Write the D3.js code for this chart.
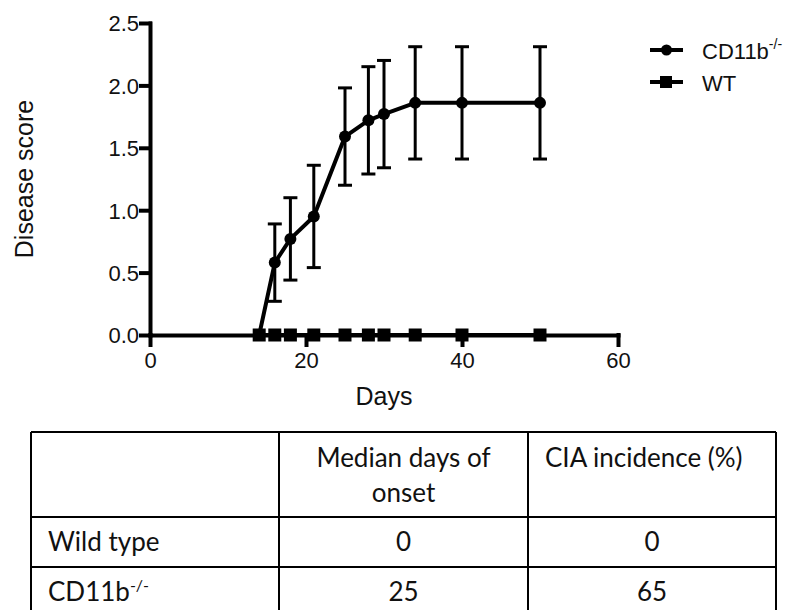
<!DOCTYPE html>
<html>
<head>
<meta charset="utf-8">
<script src="https://cdn.jsdelivr.net/npm/d3@7/dist/d3.min.js"></script>
<style>
  html, body { margin: 0; padding: 0; background: #fff; }
  svg { display: block; }
  .axis text { font-family: "Liberation Sans", "Arimo", "DejaVu Sans", sans-serif; font-size: 22px; fill: #111; }
  .axis path, .axis line { stroke: #000; stroke-width: 4; stroke-linecap: square; }
  .title { font-family: "Liberation Sans", "Arimo", "DejaVu Sans", sans-serif; font-size: 25px; fill: #111; }
  .legend text { font-family: "Liberation Sans", "Arimo", "DejaVu Sans", sans-serif; font-size: 22px; fill: #111; }
  .tbl text { font-family: Lato, "Open Sans", sans-serif; font-size: 26px; fill: #111; }
</style>
</head>
<body>
<svg id="chart" width="801" height="610"></svg>
<script>
// Disease score over time (mean ± SEM)
const days = [14, 16, 18, 21, 25, 28, 30, 34, 40, 50];
const cd11bScore = [0, 0.58, 0.77, 0.95, 1.59, 1.72, 1.77, 1.86, 1.86, 1.86];
const cd11bSem = [0, 0.31, 0.33, 0.41, 0.39, 0.43, 0.43, 0.45, 0.45, 0.45];
const wtScore = [0, 0, 0, 0, 0, 0, 0, 0, 0, 0];
const seriesNames = ["CD11b", "WT"];
const xTicks = [0, 20, 40, 60];
const yTicks = [0, 0.5, 1.0, 1.5, 2.0, 2.5];

// Summary table
const tableHeader = ["", "Median days of onset", "CIA incidence (%)"];
const groups = ["Wild type", "CD11b"];
const medianOnset = [0, 25];
const incidence = [0, 65];

const svg = d3.select("#chart");

const x = d3.scaleLinear().domain([0, 60]).range([150, 618]);
const y = d3.scaleLinear().domain([0, 2.5]).range([335, 23]);

// axes
const xAxisG = svg.append("g").attr("class", "axis")
  .attr("transform", `translate(0,${y(0)})`)
  .call(d3.axisBottom(x).tickValues(xTicks).tickFormat(d3.format("d"))
    .tickSize(10).tickSizeOuter(0).tickPadding(7));

const yAxisG = svg.append("g").attr("class", "axis")
  .attr("transform", `translate(${x(0)},0)`)
  .call(d3.axisLeft(y).tickValues(yTicks).tickFormat(d3.format(".1f"))
    .tickSize(9).tickSizeOuter(0).tickPadding(2));

[xAxisG, yAxisG].forEach(g => g.attr("font-family", null).attr("font-size", null));
yAxisG.selectAll("text").attr("dy", "0.36em");
xAxisG.selectAll("text").attr("dy", "0.72em");

// axis titles
svg.append("text").attr("class", "title")
  .attr("x", (x(0) + x(60)) / 2).attr("y", 405)
  .attr("text-anchor", "middle").text("Days");
svg.append("text").attr("class", "title")
  .attr("transform", `translate(33,${(y(0) + y(2.5)) / 2}) rotate(-90)`)
  .attr("text-anchor", "middle").text("Disease score");

// error bars
const plot = svg.append("g");
const capW = 7;
days.forEach((d, i) => {
  const s = cd11bSem[i];
  if (s <= 0) return;
  const g = plot.append("g").attr("stroke", "#000").attr("stroke-width", 3);
  const hi = y(cd11bScore[i] + s), lo = y(cd11bScore[i] - s);
  g.append("line").attr("x1", x(d)).attr("x2", x(d)).attr("y1", hi).attr("y2", lo);
  g.append("line").attr("x1", x(d) - capW).attr("x2", x(d) + capW).attr("y1", hi).attr("y2", hi);
  g.append("line").attr("x1", x(d) - capW).attr("x2", x(d) + capW).attr("y1", lo).attr("y2", lo);
});

const line = d3.line().x(d => x(d[0])).y(d => y(d[1]));
const wtPts = days.map((d, i) => [d, wtScore[i]]);
const cdPts = days.map((d, i) => [d, cd11bScore[i]]);

plot.append("path").datum(wtPts).attr("d", line)
  .attr("fill", "none").attr("stroke", "#000").attr("stroke-width", 4);
plot.append("path").datum(cdPts).attr("d", line)
  .attr("fill", "none").attr("stroke", "#000").attr("stroke-width", 4)
  .attr("stroke-linejoin", "round");

plot.selectAll("rect.wt").data(wtPts).join("rect").attr("class", "wt")
  .attr("x", d => x(d[0]) - 6.5).attr("y", d => y(d[1]) - 6.5)
  .attr("width", 13).attr("height", 13).attr("fill", "#000");
plot.selectAll("circle.cd").data(cdPts).join("circle").attr("class", "cd")
  .attr("cx", d => x(d[0])).attr("cy", d => y(d[1])).attr("r", 6).attr("fill", "#000");

// legend
const legend = svg.append("g").attr("class", "legend");
const legRows = [{ name: seriesNames[0], sup: "-/-", sym: "circle", ly: 50 },
                 { name: seriesNames[1], sup: "", sym: "square", ly: 82 }];
legRows.forEach(r => {
  legend.append("line").attr("x1", 650).attr("x2", 683).attr("y1", r.ly).attr("y2", r.ly)
    .attr("stroke", "#000").attr("stroke-width", 4);
  if (r.sym === "circle") {
    legend.append("circle").attr("cx", 666.5).attr("cy", r.ly).attr("r", 5.5).attr("fill", "#000");
  } else {
    legend.append("rect").attr("x", 660).attr("y", r.ly - 6).attr("width", 12).attr("height", 12).attr("fill", "#000");
  }
  const t = legend.append("text").attr("x", 702).attr("y", r.ly + 9).text(r.name);
  if (r.sup) t.append("tspan").attr("dy", -10).attr("font-size", 14).text(r.sup);
});

// table
const tbl = svg.append("g").attr("class", "tbl");
const colX = [31, 279, 528, 776];
const rowY = [432, 517, 567, 617, 660];
const bw = 2;
colX.forEach(cx => tbl.append("line").attr("x1", cx).attr("x2", cx)
  .attr("y1", rowY[0]).attr("y2", 640).attr("stroke", "#000").attr("stroke-width", bw));
rowY.slice(0, 4).forEach(ry => tbl.append("line").attr("x1", colX[0]).attr("x2", colX[3])
  .attr("y1", ry).attr("y2", ry).attr("stroke", "#000").attr("stroke-width", bw));

// header cells
const h1 = tbl.append("text").attr("x", (colX[1] + colX[2]) / 2).attr("y", 467).attr("text-anchor", "middle");
h1.append("tspan").attr("x", (colX[1] + colX[2]) / 2).text("Median days of");
h1.append("tspan").attr("x", (colX[1] + colX[2]) / 2).attr("dy", 35).text("onset");
tbl.append("text").attr("x", colX[2] + 17).attr("y", 467).text(tableHeader[2]);

// body rows
groups.forEach((gname, i) => {
  const base = (rowY[i + 1] + rowY[i + 2]) / 2 + 9;
  const t = tbl.append("text").attr("x", colX[0] + 17).attr("y", base).text(gname);
  if (i === 1) t.append("tspan").attr("dy", -10).attr("font-size", 16).text("-/-");
  tbl.append("text").attr("x", (colX[1] + colX[2]) / 2).attr("y", base)
    .attr("text-anchor", "middle").text(medianOnset[i]);
  tbl.append("text").attr("x", (colX[2] + colX[3]) / 2).attr("y", base)
    .attr("text-anchor", "middle").text(incidence[i]);
});
</script>
</body>
</html>
